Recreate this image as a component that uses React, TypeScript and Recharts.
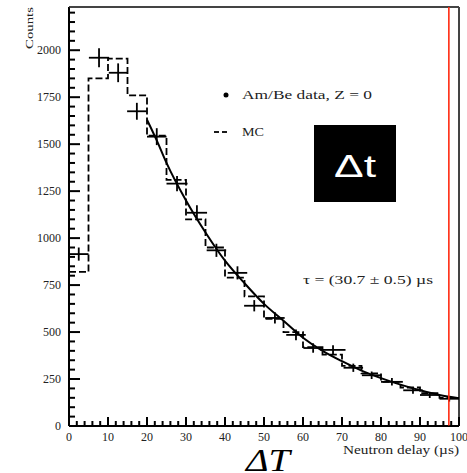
import {
  ComposedChart,
  ErrorBar,
  Line,
  ReferenceLine,
  Scatter,
  XAxis,
  YAxis,
} from "recharts";

// Am/Be data points (bin centre, counts) with errors
const dataX = [2.5, 7.7, 12.6, 17.4, 22.5, 27.7, 32.8, 37.8, 43.2, 47.5, 52.8, 58.2, 62.6, 67.7, 72.9, 77.6, 82.8, 88.2, 92.5, 97.5];
const dataY = [915, 1960, 1880, 1675, 1540, 1290, 1135, 935, 815, 640, 575, 485, 415, 405, 310, 270, 235, 190, 165, 145];
const dataYErr = [35, 50, 50, 45, 45, 40, 40, 35, 35, 30, 30, 28, 25, 25, 22, 20, 20, 18, 16, 15];
const dataXErr = [2.5, 2.6, 2.4, 2.5, 2.5, 2.7, 2.6, 2.5, 2.5, 2.6, 2.5, 2.5, 2.5, 3.2, 2.5, 2.5, 2.8, 2.5, 2.5, 2.5];

// MC histogram, lower bin edges
const mcEdges = [0, 5, 10, 15, 20, 25, 30, 35, 40, 45, 50, 55, 60, 65, 70, 75, 80, 85, 90, 95, 100];
const mcCounts = [820, 1850, 1955, 1760, 1545, 1310, 1100, 950, 790, 690, 570, 500, 420, 380, 320, 280, 235, 205, 175, 150, 150];

// exponential fit, tau = 30.7 us
const fitX = [20, 22.5, 25, 30, 35, 40, 45, 50, 55, 60, 65, 70, 75, 80, 85, 90, 95, 100];
const fitY = [1630, 1520, 1400, 1200, 1030, 880, 760, 650, 560, 470, 400, 345, 295, 255, 220, 190, 165, 148];

const X_MAX = 100;
const Y_MAX = 2230;
const CUT_X = 97.4;
const xTicks = Array.from({ length: 51 }, (_, i) => i * 2);
const yTicks = Array.from({ length: 45 }, (_, i) => i * 50);

const points = dataX.map((x, i) => ({ x, y: dataY[i], ey: dataYErr[i], ex: dataXErr[i] }));
const mc = mcEdges.map((x, i) => ({ x, y: mcCounts[i] }));
const fit = fitX.map((x, i) => ({ x, y: fitY[i] }));

const W = 467;
const H = 473;
const M = { top: 7, right: 8, left: 0, bottom: 0 };
const Y_AXIS_W = 69;
const X_AXIS_H = 47;
const PLOT_W = W - M.left - M.right - Y_AXIS_W;
const PLOT_H = H - M.top - M.bottom - X_AXIS_H;
// inward tick lengths (px) turned into data units
const yTickLen = (major: boolean) => ((major ? 11 : 6) * X_MAX) / PLOT_W;
const xTickLen = (major: boolean) => ((major ? 9 : 5) * Y_MAX) / PLOT_H;

const SERIF = "'Liberation Serif', 'DejaVu Serif', serif";

function renderYTick(props: any) {
  const x = Number(props.x);
  const y = Number(props.y);
  const v = Number(props.payload.value);
  if (v % 250 !== 0) return <g key={`yt-${v}`} />;
  return (
    <text key={`yt-${v}`} x={x - 8} y={y + 4} textAnchor="end" fontFamily={SERIF} fontSize={12} fill="#222">
      {v}
    </text>
  );
}

function renderXTick(props: any) {
  const x = Number(props.x);
  const y = Number(props.y);
  const v = Number(props.payload.value);
  if (v % 10 !== 0) return <g key={`xt-${v}`} />;
  return (
    <text key={`xt-${v}`} x={x} y={y + 15} textAnchor="middle" fontFamily={SERIF} fontSize={12} fill="#222">
      {v}
    </text>
  );
}

export default function App() {
  return (
    <div style={{ position: "absolute", left: 0, top: 0, width: W, height: H }}>
      <ComposedChart width={W} height={H} margin={M}>
        <XAxis
          type="number"
          dataKey="x"
          domain={[0, X_MAX]}
          ticks={xTicks}
          interval={0}
          height={X_AXIS_H}
          tickSize={0}
          tickMargin={0}
          tickLine={false}
          tick={renderXTick}
          stroke="#000"
        />
        <YAxis
          type="number"
          dataKey="y"
          domain={[0, Y_MAX]}
          ticks={yTicks}
          interval={0}
          width={Y_AXIS_W}
          tickSize={0}
          tickMargin={0}
          tickLine={false}
          tick={renderYTick}
          stroke="#000"
        />
        <ReferenceLine x={0} stroke="#000" strokeWidth={2} />
        <ReferenceLine y={0} stroke="#000" strokeWidth={2} />
        <ReferenceLine y={Y_MAX} stroke="#444" strokeWidth={2} />
        <ReferenceLine x={X_MAX} stroke="#444" strokeWidth={2} />
        {yTicks.map((v) => (
          <ReferenceLine
            key={`ym-${v}`}
            segment={[
              { x: 0, y: v },
              { x: yTickLen(v % 250 === 0), y: v },
            ]}
            stroke="#000"
            strokeWidth={2}
            ifOverflow="visible"
          />
        ))}
        {xTicks.map((v) => (
          <ReferenceLine
            key={`xm-${v}`}
            segment={[
              { x: v, y: 0 },
              { x: v, y: xTickLen(v % 10 === 0) },
            ]}
            stroke="#000"
            strokeWidth={2}
            ifOverflow="visible"
          />
        ))}
        <Line
          data={mc}
          dataKey="y"
          type="stepAfter"
          stroke="#000"
          strokeWidth={1.8}
          strokeDasharray="7 3"
          dot={false}
          isAnimationActive={false}
        />
        <Line
          data={fit}
          dataKey="y"
          type="monotone"
          stroke="#000"
          strokeWidth={2}
          dot={false}
          isAnimationActive={false}
        />
        <Scatter data={points} dataKey="y" shape={() => <g />} isAnimationActive={false}>
          <ErrorBar dataKey="ey" direction="y" width={0} stroke="#000" strokeWidth={1.8} />
          <ErrorBar dataKey="ex" direction="x" width={0} stroke="#000" strokeWidth={1.8} />
        </Scatter>
        <ReferenceLine x={CUT_X} stroke="#ff2a10" strokeWidth={1.6} />
      </ComposedChart>
      <svg width={W} height={H} style={{ position: "absolute", left: 0, top: 0, pointerEvents: "none" }}>
        <text
          transform="translate(33,28) rotate(-90)"
          textAnchor="middle"
          fontFamily={SERIF}
          fontSize={11}
          fill="#222"
          textLength={42}
          lengthAdjust="spacingAndGlyphs"
        >
          Counts
        </text>
        <circle cx={226} cy={95} r={2.5} fill="#000" />
        <text x={242} y={99} fontFamily={SERIF} fontSize={12} fill="#222" textLength={130} lengthAdjust="spacingAndGlyphs">
          Am/Be data, Z = 0
        </text>
        <line x1={214} x2={219} y1={132} y2={132} stroke="#000" strokeWidth={1.8} />
        <line x1={222} x2={227} y1={132} y2={132} stroke="#000" strokeWidth={1.8} />
        <text x={242} y={136} fontFamily={SERIF} fontSize={12} fill="#222" textLength={22} lengthAdjust="spacingAndGlyphs">
          MC
        </text>
        <rect x={314} y={125} width={82} height={77} fill="#000" />
        <text
          x={355}
          y={177}
          textAnchor="middle"
          fontFamily="'Liberation Sans', Arial, sans-serif"
          fontSize={32}
          fill="#fff"
          textLength={42}
          lengthAdjust="spacingAndGlyphs"
        >
          Δt
        </text>
        <text x={303} y={284} fontFamily={SERIF} fontSize={12} fill="#222" textLength={130} lengthAdjust="spacingAndGlyphs">
          τ = (30.7 ± 0.5) µs
        </text>
        <text x={343} y={454} fontFamily={SERIF} fontSize={12} fill="#222" textLength={116} lengthAdjust="spacingAndGlyphs">
          Neutron delay (µs)
        </text>
        <text
          x={246}
          y={471}
          fontFamily={SERIF}
          fontStyle="italic"
          fontSize={32}
          fill="#000"
          textLength={44}
          lengthAdjust="spacingAndGlyphs"
        >
          ΔT
        </text>
      </svg>
    </div>
  );
}
